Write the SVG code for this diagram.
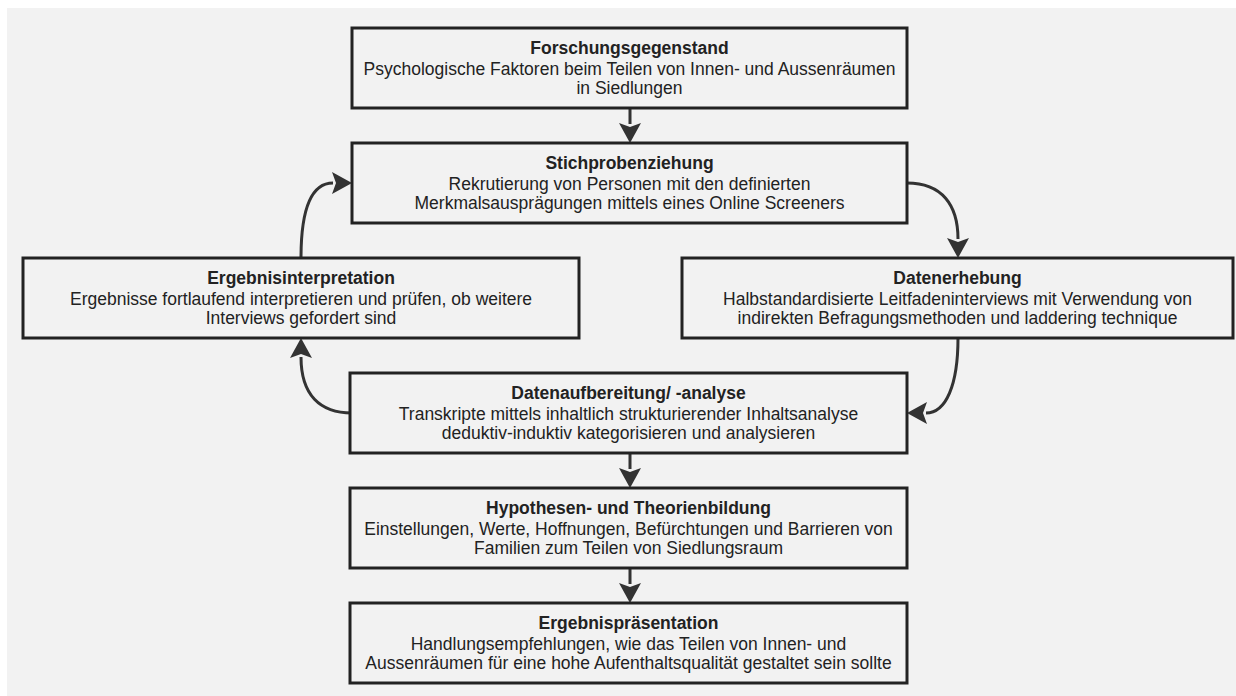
<svg xmlns="http://www.w3.org/2000/svg" width="1236" height="696" viewBox="0 0 1236 696">
  <style>
    .box { fill: #f2f2f2; stroke: #222222; stroke-width: 3; }
    .t { font-family: "Liberation Sans", Arial, sans-serif; font-size: 17.5px; fill: #222222; text-anchor: middle; }
    .b { font-weight: bold; }
    .conn { fill: none; stroke: #333333; stroke-width: 3; }
  </style>
  <defs>
    <marker id="arrow" markerUnits="userSpaceOnUse" markerWidth="22" markerHeight="24" refX="1" refY="12" orient="auto" viewBox="0 0 22 24">
      <path d="M0,1 L20,12 L0,23 L4,12 Z" fill="#333333"/>
    </marker>
  </defs>
  <rect x="7" y="8" width="1229" height="688" fill="#f2f2f2"/>

  <g id="connectors">
    <path class="conn" d="M630,108 L630,124" marker-end="url(#arrow)"/>
    <path class="conn" d="M907,183 C942,183 958,205 958,239" marker-end="url(#arrow)"/>
    <path class="conn" d="M958,338 C958,385 946,413 926,413" marker-end="url(#arrow)"/>
    <path class="conn" d="M352,413 C320,413 301,395 301,357" marker-end="url(#arrow)"/>
    <path class="conn" d="M301,258 C301,212 310,183 333,183" marker-end="url(#arrow)"/>
    <path class="conn" d="M630,453 L630,469" marker-end="url(#arrow)"/>
    <path class="conn" d="M630,568 L630,584" marker-end="url(#arrow)"/>
  </g>

  <g id="forschungsgegenstand">
    <rect class="box" x="352" y="28" width="555" height="80"/>
    <text class="t b" x="629.5" y="54">Forschungsgegenstand</text>
    <text class="t" x="629.5" y="75">Psychologische Faktoren beim Teilen von Innen- und Aussenräumen</text>
    <text class="t" x="629.5" y="94">in Siedlungen</text>
  </g>

  <g id="stichprobenziehung">
    <rect class="box" x="352" y="143" width="555" height="80"/>
    <text class="t b" x="629.5" y="169">Stichprobenziehung</text>
    <text class="t" x="629.5" y="190">Rekrutierung von Personen mit den definierten</text>
    <text class="t" x="629.5" y="209">Merkmalsausprägungen mittels eines Online Screeners</text>
  </g>

  <g id="ergebnisinterpretation">
    <rect class="box" x="23" y="258" width="556" height="80"/>
    <text class="t b" x="301" y="284">Ergebnisinterpretation</text>
    <text class="t" x="301" y="305">Ergebnisse fortlaufend interpretieren und prüfen, ob weitere</text>
    <text class="t" x="301" y="324">Interviews gefordert sind</text>
  </g>

  <g id="datenerhebung">
    <rect class="box" x="682" y="258" width="551" height="80"/>
    <text class="t b" x="957.5" y="284">Datenerhebung</text>
    <text class="t" x="957.5" y="305">Halbstandardisierte Leitfadeninterviews mit Verwendung von</text>
    <text class="t" x="957.5" y="324">indirekten Befragungsmethoden und laddering technique</text>
  </g>

  <g id="datenaufbereitung">
    <rect class="box" x="350" y="373" width="557" height="80"/>
    <text class="t b" x="628.5" y="399">Datenaufbereitung/ -analyse</text>
    <text class="t" x="628.5" y="420">Transkripte mittels inhaltlich strukturierender Inhaltsanalyse</text>
    <text class="t" x="628.5" y="439">deduktiv-induktiv kategorisieren und analysieren</text>
  </g>

  <g id="hypothesenbildung">
    <rect class="box" x="350" y="488" width="557" height="80"/>
    <text class="t b" x="628.5" y="514">Hypothesen- und Theorienbildung</text>
    <text class="t" x="628.5" y="535">Einstellungen, Werte, Hoffnungen, Befürchtungen und Barrieren von</text>
    <text class="t" x="628.5" y="554">Familien zum Teilen von Siedlungsraum</text>
  </g>

  <g id="ergebnispraesentation">
    <rect class="box" x="350" y="603" width="557" height="80"/>
    <text class="t b" x="628.5" y="629">Ergebnispräsentation</text>
    <text class="t" x="628.5" y="650">Handlungsempfehlungen, wie das Teilen von Innen- und</text>
    <text class="t" x="628.5" y="669">Aussenräumen für eine hohe Aufenthaltsqualität gestaltet sein sollte</text>
  </g>
</svg>
